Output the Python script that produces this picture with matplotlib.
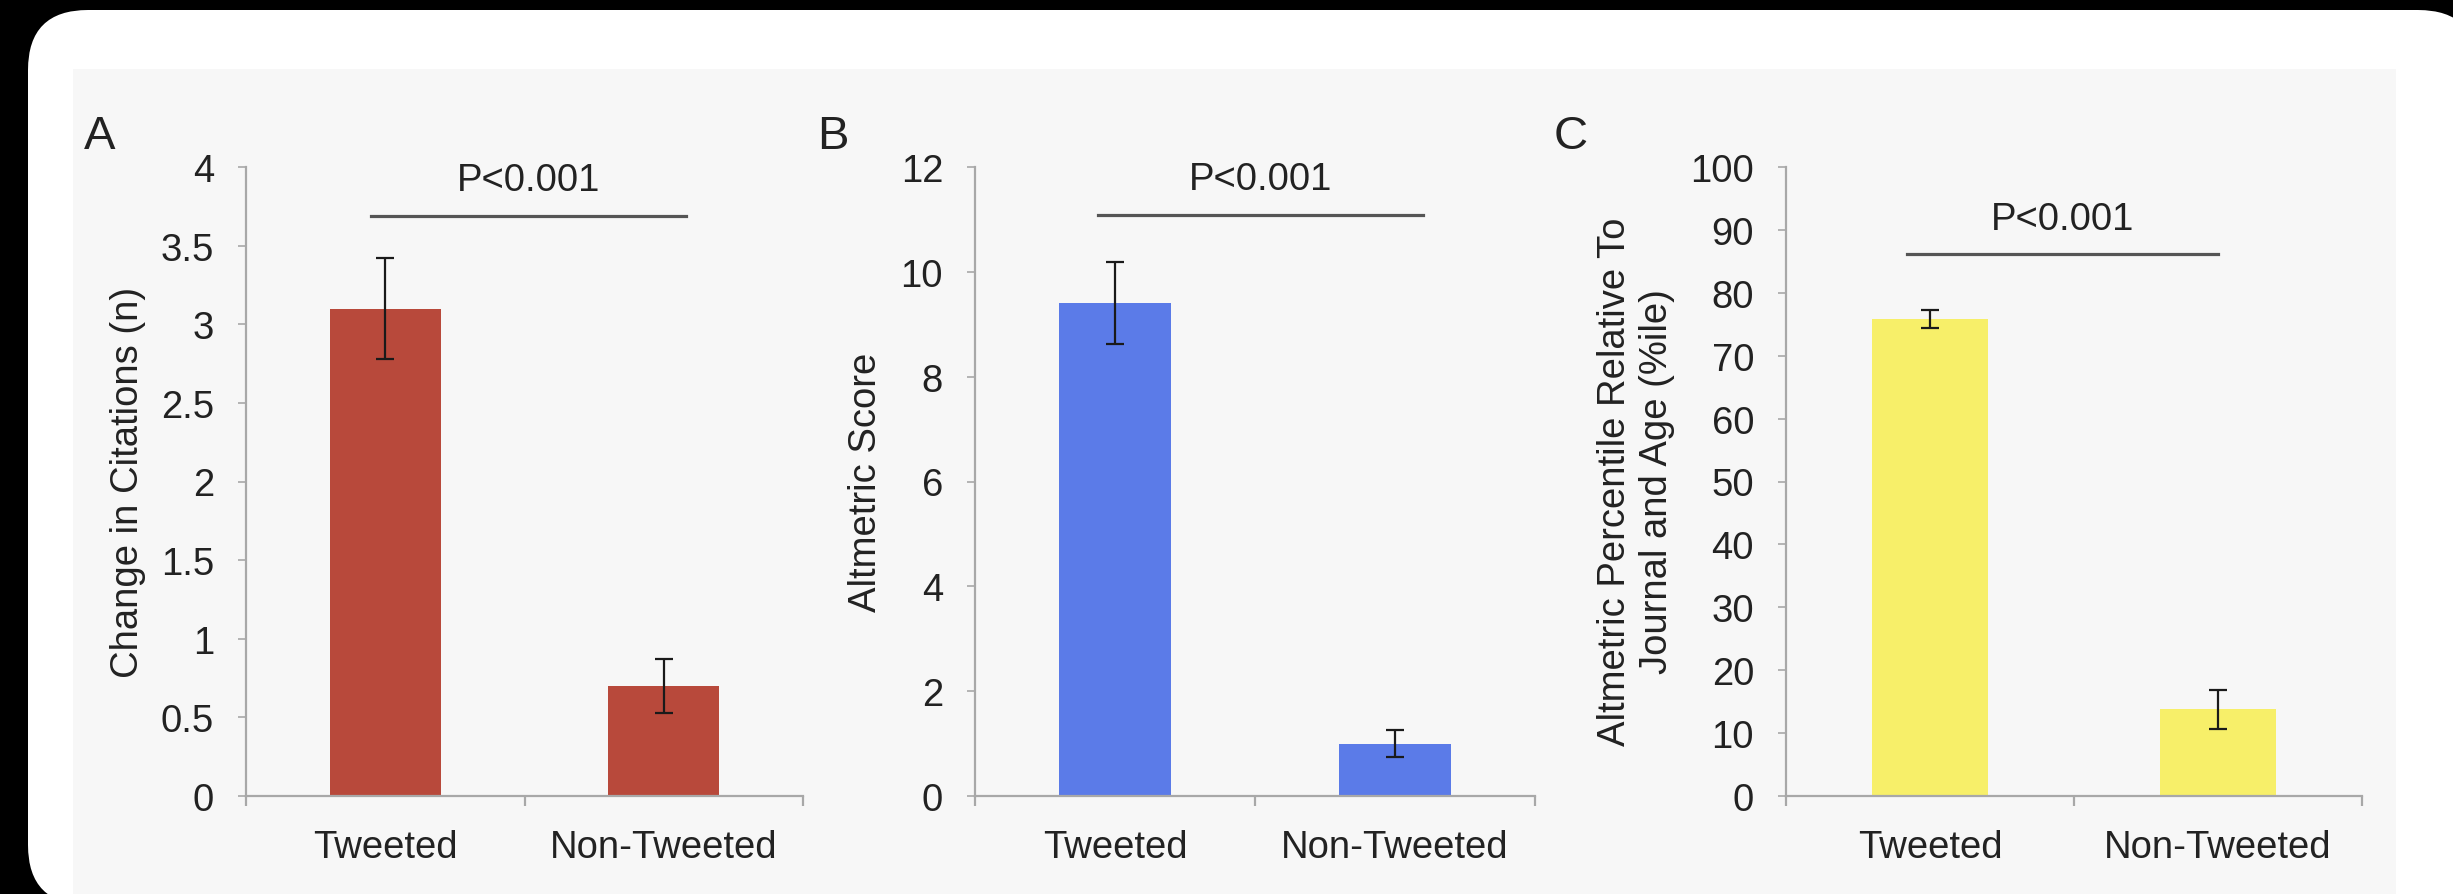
import matplotlib
matplotlib.use("Agg")
import matplotlib.pyplot as plt
from matplotlib.patches import FancyBboxPatch, Rectangle

plt.rcParams['font.family'] = ['Liberation Sans', 'DejaVu Sans']

# data
categories = ["Tweeted", "Non-Tweeted"]

citations = [3.1, 0.7]
citations_err = [0.32, 0.17]

altmetric = [9.4, 1.0]
altmetric_err = [0.78, 0.25]

percentile = [75.8, 13.8]
percentile_err = [1.4, 3.1]

ylims = [4, 12, 100]
yticks = [[0, 0.5, 1, 1.5, 2, 2.5, 3, 3.5, 4],
          [0, 2, 4, 6, 8, 10, 12],
          list(range(0, 101, 10))]
ylabels = ["Change in Citations (n)", "Altmetric Score",
           "Altmetric Percentile Relative To\nJournal and Age (%ile)"]
panel_letters = ["A", "B", "C"]
p_text = "P<0.001"
p_line_y = [3.69, 11.09, 86.2]
p_text_y = [3.92, 11.77, 91.7]
p_line_x = [(-0.05, 1.08), (-0.06, 1.10), (-0.08, 1.0)]

colors = ["#b8493b", "#5b7be8", "#f7ef69"]

W, H = 2453, 895
fig = plt.figure(figsize=(W / 100, H / 100), dpi=100, facecolor="black")

# background: white rounded card and light grey panel (pixel units)
bg = fig.add_axes([0, 0, 1, 1], zorder=-5)
bg.set_xlim(0, W)
bg.set_ylim(H, 0)
bg.axis("off")
bg.add_patch(FancyBboxPatch((28, 11), 2450, 895, boxstyle="round,pad=0,rounding_size=60",
                            facecolor="white", edgecolor="none"))
bg.add_patch(Rectangle((73, 70), 2396 - 73, 900 - 70, facecolor="#f7f7f7", edgecolor="none"))


def px(x, y):
    return x / W, 1 - y / H


# axes positions in pixels: left, right ; top y=168, bottom y=797
axes_px = [(246, 803), (975, 1535), (1786, 2362)]
ylabel_x = [128, 866, 1636]
letter_x = [100, 833, 1571]

values = [citations, altmetric, percentile]
errors = [citations_err, altmetric_err, percentile_err]

text_col = "#222222"
axis_col = "#a8a8a8"

for i in range(3):
    l, r = axes_px[i]
    ax = fig.add_axes([l / W, 1 - 797 / H, (r - l) / W, (797 - 168) / H])
    ax.set_facecolor("none")
    x = range(len(categories))
    ax.bar(x, values[i], width=0.4, color=colors[i], zorder=2)
    ax.errorbar(x, values[i], yerr=errors[i], fmt="none", ecolor="#1a1a1a",
                elinewidth=1.6, capsize=6.5, capthick=1.6, zorder=3)

    ax.set_xlim(-0.5, 1.5)
    ax.set_ylim(0, ylims[i])
    ax.set_yticks(yticks[i])
    ax.set_yticklabels([f"{t:g}" for t in yticks[i]])
    ax.set_xticks(list(x))
    ax.set_xticklabels(categories)
    ax.set_xticks([-0.5, 0.5, 1.5], minor=True)

    for s in ["top", "right"]:
        ax.spines[s].set_visible(False)
    for s in ["left", "bottom"]:
        ax.spines[s].set_color(axis_col)
        ax.spines[s].set_linewidth(1.6)

    ax.tick_params(axis="y", direction="out", length=6, width=1.2, color=axis_col,
                   labelsize=27.5, labelcolor=text_col, pad=17)
    ax.tick_params(axis="x", which="major", length=0, labelsize=27.5,
                   labelcolor=text_col, pad=24)
    ax.tick_params(axis="x", which="minor", direction="out", length=7, width=1.6,
                   color=axis_col)

    x0, x1 = p_line_x[i]
    ax.plot([x0, x1], [p_line_y[i]] * 2, color="#555555", lw=2.3, clip_on=False)
    ax.text((x0 + x1) / 2, p_text_y[i], p_text, ha="center", va="center",
            fontsize=27.5, color=text_col)

    fig.text(*px(ylabel_x[i], 482), ylabels[i], rotation=90, ha="center",
             va="center", fontsize=27.5, color=text_col, multialignment="center")
    fig.text(*px(letter_x[i], 137), panel_letters[i], ha="center", va="center",
             fontsize=34, color=text_col)

fig.savefig("out.png", dpi=100, facecolor=fig.get_facecolor())
